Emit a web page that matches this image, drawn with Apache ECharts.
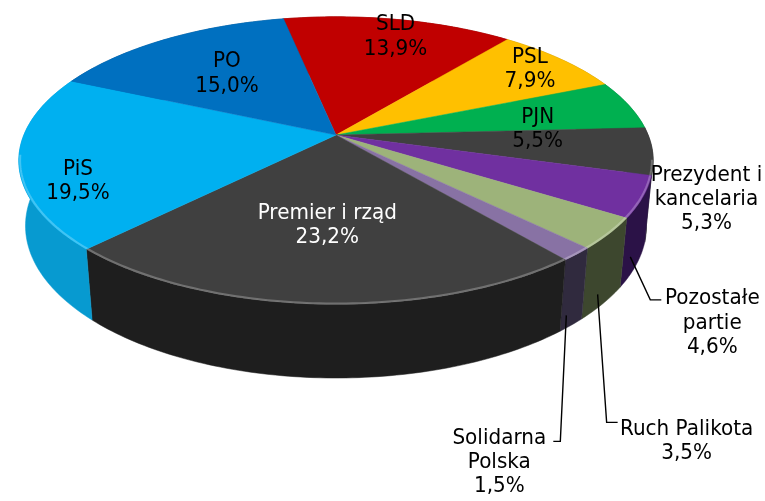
<!DOCTYPE html>
<html>
<head>
<meta charset="utf-8">
<script src="https://cdn.jsdelivr.net/npm/echarts@6/dist/echarts.min.js"></script>
<style>
  html, body { margin: 0; padding: 0; background: #fff; }
  #chart { width: 765px; height: 501px; }
</style>
</head>
<body>
<div id="chart"></div>
<script>
// dane
const categories = ['SLD', 'PSL', 'PJN', 'Prezydent i\nkancelaria', 'Pozostałe\npartie',
  'Ruch Palikota', 'Solidarna\nPolska', 'Premier i rząd', 'PiS', 'PO'];
const shares = [13.9, 7.9, 5.5, 5.3, 4.6, 3.5, 1.5, 23.2, 19.5, 15.0];

// kolory: góra / bok
const topColors = ['#C00000', '#FFC000', '#00B050', '#404040', '#7030A0',
  '#9DB37A', '#8872A4', '#404040', '#00B0F0', '#0070C0'];
const sideColors = ['#800000', '#B08400', '#00783A', '#262626', '#2B1247',
  '#3D472E', '#302A3E', '#1E1E1E', '#079AD0', '#004E88'];

// rzut perspektywiczny koła (kąt liczony od "tyłu", zgodnie z ruchem wskazówek)
const CX = 336, CY = 135, FOCAL = 1570, DIST = 5.03;
const SIN_T = 0.446, COS_T = 0.895, THICK = 0.235;
const START = -11.4;

function proj(deg, r, h) {
  const a = deg * Math.PI / 180;
  const u = r * Math.sin(a), v = -r * Math.cos(a);
  const yc = h * COS_T - v * SIN_T;
  const z = DIST - v * COS_T - h * SIN_T;
  return [CX + FOCAL * u / z, CY - FOCAL * yc / z];
}
function arcPts(a0, a1, r, h) {
  const n = Math.max(2, Math.ceil(Math.abs(a1 - a0)));
  const pts = [];
  for (let i = 0; i <= n; i++) pts.push(proj(a0 + (a1 - a0) * i / n, r, h));
  return pts;
}

const total = shares.reduce((a, b) => a + b, 0);
const angles = [];
let acc = START;
shares.forEach(v => { const a0 = acc; acc += v / total * 360; angles.push([a0, acc]); });

const pct = v => v.toFixed(1).replace('.', ',') + '%';

// położenie etykiet: wewnątrz (r, dx, dy) lub na zewnątrz z linią odniesienia
const labelPlace = [
  { r: 0.85, dx: 5, dy: 2 },
  { r: 0.85, dx: 0, dy: 0 },
  { r: 0.66, dx: 6, dy: 14 },
  { r: 1, h: 0, dx: 54, dy: 48 },
  { r: 0.98, h: -0.9, elbow: [20, 43], tail: 11, dx: 51, dy: 23 },
  { r: 0.98, h: -0.9, elbow: [9, 128], tail: 11, dx: 69, dy: 19 },
  { r: 0.98, h: -0.9, elbow: [-6, 126], tail: -7, dx: -54, dy: 21 },
  { r: 0.58, dx: 0, dy: 0, color: '#fff' },
  { r: 0.8, dx: -6, dy: 25 },
  { r: 0.61, dx: 0, dy: 0 }
];

const seriesData = shares.map((v, i) => [i, v]);

function renderSide(params) {
  const i = params.dataIndex;
  const [a0, a1] = angles[i];
  const top = arcPts(a0, a1, 1, 0);
  const bottom = arcPts(a0, a1, 1, -THICK).reverse();
  return {
    type: 'polygon',
    shape: { points: top.concat(bottom) },
    style: { fill: sideColors[i], stroke: sideColors[i], lineWidth: 0.5 }
  };
}

function renderTop(params) {
  const i = params.dataIndex;
  const [a0, a1] = angles[i];
  const children = [{
    type: 'polygon',
    shape: { points: [proj(0, 0, 0)].concat(arcPts(a0, a1, 1, 0)) },
    style: { fill: topColors[i], stroke: topColors[i], lineWidth: 0.5 }
  }];
  // jasna krawędź z przodu
  const f0 = Math.max(a0, 100), f1 = Math.min(a1, 262);
  if (f1 > f0) {
    children.push({
      type: 'polyline',
      shape: { points: arcPts(f0, f1, 0.996, 0) },
      style: { stroke: 'rgba(255,255,255,0.25)', lineWidth: 2, fill: null }
    });
  }
  return { type: 'group', children };
}

function renderLabel(params) {
  const i = params.dataIndex;
  const [a0, a1] = angles[i];
  const mid = (a0 + a1) / 2;
  const lp = labelPlace[i];
  const text = categories[i] + '\n' + pct(shares[i]);
  const children = [];
  const anchor = proj(mid, lp.r, (lp.h || 0) * THICK);
  let tx = anchor[0] + lp.dx, ty = anchor[1] + lp.dy;
  if (lp.elbow) {
    const elbow = [anchor[0] + lp.elbow[0], anchor[1] + lp.elbow[1]];
    const end = [elbow[0] + lp.tail, elbow[1]];
    children.push({
      type: 'polyline',
      shape: { points: [anchor, elbow, end] },
      style: { stroke: '#000', lineWidth: 1.4, fill: null }
    });
    tx = end[0] + lp.dx; ty = end[1] + lp.dy;
  }
  children.push({
    type: 'text',
    x: tx, y: ty,
    scaleY: 1.1,
    style: {
      text,
      fill: lp.color || '#000',
      font: '20px "DejaVu Sans"',
      lineHeight: 22,
      align: 'center',
      verticalAlign: 'middle'
    }
  });
  return { type: 'group', children };
}

const chart = echarts.init(document.getElementById('chart'));
chart.setOption({
  backgroundColor: '#fff',
  animation: false,
  series: [
    { type: 'custom', coordinateSystem: 'none', z: 1, data: seriesData, renderItem: renderSide },
    { type: 'custom', coordinateSystem: 'none', z: 2, data: seriesData, renderItem: renderTop },
    { type: 'custom', coordinateSystem: 'none', z: 3, data: seriesData, renderItem: renderLabel }
  ]
});
</script>
</body>
</html>
